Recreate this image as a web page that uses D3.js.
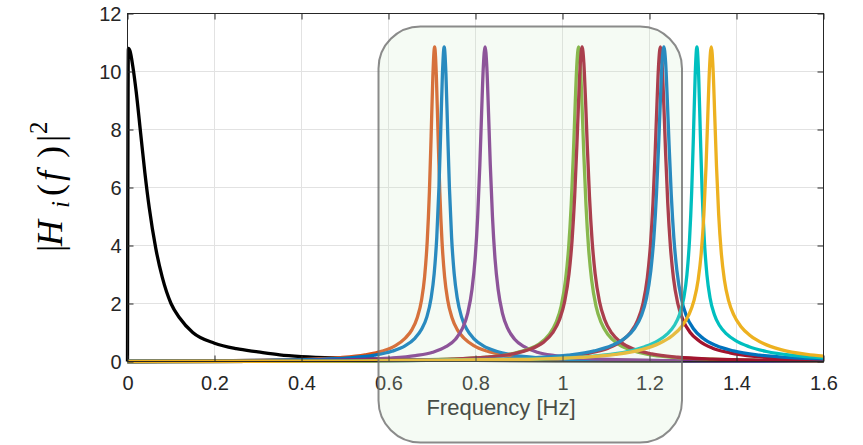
<!DOCTYPE html>
<html><head><meta charset="utf-8">
<script src="https://cdn.jsdelivr.net/npm/d3@7"></script>
<style>html,body{margin:0;padding:0;background:#fff}</style>
</head><body>
<svg id="c" width="863" height="445"></svg>
<script>
// ---------- data ----------
const xTicks = [0, 0.2, 0.4, 0.6, 0.8, 1, 1.2, 1.4, 1.6];
const xTickLabels = ["0", "0.2", "0.4", "0.6", "0.8", "1", "1.2", "1.4", "1.6"];
const yTicks = [0, 2, 4, 6, 8, 10, 12];
const yTickLabels = ["0", "2", "4", "6", "8", "10", "12"];
const xLabel = "Frequency [Hz]";

const blackCurve = [[0,0],[0.002,10.8],[0.006,10.7],[0.012,10.2],[0.02,9.3],[0.03,7.9],[0.04,6.5],[0.05,5.3],[0.065,3.9],[0.08,2.9],[0.1,2.0],[0.12,1.5],[0.15,1.0],[0.2,0.63],[0.25,0.44],[0.3,0.33],[0.35,0.23],[0.4,0.17],[0.5,0.11],[0.6,0.07],[0.8,0.04],[1.0,0.025],[1.3,0.015],[1.6,0.01]];
const orangeCurve = [[0,0],[0.15,0.012],[0.286,0.038],[0.406,0.072],[0.486,0.129],[0.546,0.226],[0.586,0.36],[0.616,0.55],[0.638,0.80],[0.654,1.10],[0.666,1.51],[0.676,2.12],[0.683,2.92],[0.689,4.14],[0.694,5.83],[0.698,7.77],[0.702,9.85],[0.706,10.85],[0.710,9.85],[0.714,7.77],[0.718,5.83],[0.723,4.14],[0.729,2.92],[0.736,2.12],[0.746,1.51],[0.758,1.10],[0.774,0.80],[0.796,0.55],[0.826,0.36],[0.866,0.226],[0.926,0.129],[1.006,0.072],[1.126,0.038],[1.35,0.02],[1.6,0.012]];
const blueCurve1 = [[0,0],[0.15,0.012],[0.308,0.037],[0.428,0.07],[0.508,0.126],[0.568,0.221],[0.608,0.354],[0.638,0.54],[0.660,0.79],[0.676,1.11],[0.688,1.53],[0.698,2.19],[0.705,3.03],[0.711,4.29],[0.716,6.01],[0.720,7.92],[0.724,9.92],[0.728,10.85],[0.732,9.92],[0.736,7.92],[0.740,6.01],[0.745,4.29],[0.751,3.03],[0.758,2.19],[0.768,1.53],[0.780,1.11],[0.796,0.79],[0.818,0.54],[0.848,0.354],[0.888,0.221],[0.948,0.126],[1.028,0.07],[1.148,0.037],[1.35,0.02],[1.6,0.012]];
const purpleCurve = [[0,0],[0.2,0.01],[0.402,0.033],[0.522,0.063],[0.602,0.113],[0.662,0.2],[0.702,0.32],[0.732,0.51],[0.754,0.77],[0.770,1.14],[0.782,1.66],[0.792,2.49],[0.799,3.52],[0.805,4.99],[0.810,6.78],[0.814,8.55],[0.818,10.16],[0.822,10.85],[0.826,10.16],[0.830,8.55],[0.834,6.78],[0.839,4.99],[0.845,3.52],[0.852,2.49],[0.862,1.66],[0.874,1.14],[0.890,0.77],[0.912,0.51],[0.942,0.32],[0.982,0.2],[1.042,0.113],[1.122,0.063],[1.242,0.033],[1.6,0.012]];
const greenCurve = [[0,0],[0.3,0.008],[0.617,0.041],[0.737,0.079],[0.817,0.14],[0.877,0.245],[0.917,0.4],[0.947,0.61],[0.969,0.92],[0.985,1.34],[0.997,1.91],[1.007,2.81],[1.014,3.9],[1.020,5.39],[1.025,7.15],[1.029,8.8],[1.033,10.25],[1.037,10.85],[1.041,10.25],[1.045,8.8],[1.049,7.15],[1.054,5.39],[1.060,3.9],[1.067,2.81],[1.077,1.91],[1.089,1.34],[1.105,0.92],[1.127,0.61],[1.157,0.4],[1.197,0.245],[1.257,0.14],[1.337,0.079],[1.457,0.041],[1.6,0.025]];
const redCurve1 = [[0,0],[0.3,0.008],[0.625,0.043],[0.745,0.083],[0.825,0.147],[0.885,0.26],[0.925,0.42],[0.955,0.65],[0.977,0.985],[0.993,1.44],[1.005,2.07],[1.015,3.03],[1.022,4.18],[1.028,5.70],[1.033,7.43],[1.037,8.99],[1.041,10.31],[1.045,10.85],[1.049,10.31],[1.053,8.99],[1.057,7.43],[1.062,5.70],[1.068,4.18],[1.075,3.03],[1.085,2.07],[1.097,1.44],[1.113,0.985],[1.135,0.65],[1.165,0.42],[1.205,0.26],[1.265,0.147],[1.345,0.083],[1.465,0.043],[1.6,0.028]];
const redCurve2 = [[0,0],[0.4,0.008],[0.805,0.053],[0.925,0.099],[1.005,0.173],[1.065,0.3],[1.105,0.46],[1.135,0.70],[1.157,1.01],[1.173,1.43],[1.185,2.0],[1.195,2.89],[1.202,3.98],[1.208,5.45],[1.213,7.19],[1.217,8.82],[1.221,10.25],[1.225,10.85],[1.229,10.25],[1.233,8.82],[1.237,7.19],[1.242,5.45],[1.248,3.98],[1.255,2.89],[1.265,2.0],[1.277,1.43],[1.293,1.01],[1.315,0.70],[1.345,0.46],[1.385,0.3],[1.445,0.173],[1.525,0.099],[1.6,0.065]];
const blueCurve2 = [[0,0],[0.4,0.01],[0.813,0.07],[0.933,0.129],[1.013,0.22],[1.073,0.365],[1.113,0.55],[1.143,0.80],[1.165,1.13],[1.181,1.57],[1.193,2.18],[1.203,3.13],[1.210,4.26],[1.216,5.76],[1.221,7.47],[1.225,9.0],[1.229,10.32],[1.233,10.85],[1.237,10.32],[1.241,9.0],[1.245,7.47],[1.250,5.76],[1.256,4.26],[1.263,3.13],[1.273,2.18],[1.285,1.57],[1.301,1.13],[1.323,0.80],[1.353,0.55],[1.393,0.365],[1.453,0.22],[1.533,0.129],[1.6,0.09]];
const cyanCurve = [[0,0],[0.5,0.012],[0.889,0.066],[1.009,0.123],[1.089,0.21],[1.149,0.345],[1.189,0.51],[1.219,0.71],[1.241,0.95],[1.257,1.24],[1.269,1.62],[1.279,2.21],[1.286,2.99],[1.292,4.19],[1.297,5.86],[1.301,7.79],[1.305,9.86],[1.309,10.85],[1.313,9.86],[1.317,7.79],[1.321,5.86],[1.326,4.19],[1.332,2.99],[1.339,2.21],[1.349,1.62],[1.361,1.24],[1.377,0.95],[1.399,0.71],[1.429,0.51],[1.469,0.345],[1.529,0.21],[1.6,0.13]];
const yellowCurve = [[0,0],[0.5,0.015],[0.922,0.075],[1.042,0.141],[1.122,0.244],[1.182,0.41],[1.222,0.62],[1.252,0.89],[1.274,1.21],[1.290,1.60],[1.302,2.09],[1.312,2.83],[1.319,3.75],[1.325,5.07],[1.330,6.74],[1.334,8.47],[1.338,10.12],[1.342,10.85],[1.346,10.12],[1.350,8.47],[1.354,6.74],[1.359,5.07],[1.365,3.75],[1.372,2.83],[1.382,2.09],[1.394,1.60],[1.410,1.21],[1.432,0.89],[1.462,0.62],[1.502,0.41],[1.562,0.244],[1.6,0.185]];

const seriesData   = [blackCurve, orangeCurve, blueCurve1, purpleCurve, greenCurve, redCurve1, redCurve2, blueCurve2, cyanCurve, yellowCurve];
const seriesColors = ["#000000", "#D95319", "#0072BD", "#7E2F8E", "#77AC30", "#A2142F", "#A2142F", "#0072BD", "#00BFBF", "#EDB120"];

// ---------- drawing ----------
const svg = d3.select("#c");
const x = d3.scaleLinear().domain([0, 1.6]).range([127.5, 823.5]);
const y = d3.scaleLinear().domain([0, 12]).range([361.5, 13.5]);
const axisColor = "#262626";
const font = "'Liberation Sans', Arial, Helvetica, sans-serif";

svg.append("rect").attr("x", 0).attr("y", 0).attr("width", 863).attr("height", 445).attr("fill", "#fff");

// grid
const grid = svg.append("g").attr("stroke", "#e2e2e2").attr("stroke-width", 1);
xTicks.slice(1, -1).forEach(t => grid.append("line").attr("x1", x(t)).attr("x2", x(t)).attr("y1", y(0)).attr("y2", y(12)));
yTicks.slice(1, -1).forEach(t => grid.append("line").attr("x1", x(0)).attr("x2", x(1.6)).attr("y1", y(t)).attr("y2", y(t)));

// curves
const line = d3.line().x(d => x(d[0])).y(d => y(d[1])).curve(d3.curveMonotoneX);
seriesData.forEach((s, i) => {
  svg.append("path").datum(s).attr("d", line).attr("fill", "none")
    .attr("stroke", seriesColors[i]).attr("stroke-width", 3.3)
    .attr("stroke-linejoin", "round").attr("stroke-linecap", "butt");
});

// axes frame + ticks (all four sides, inward)
const axes = svg.append("g");
axes.append("rect").attr("x", x(0)).attr("y", y(12)).attr("width", x(1.6) - x(0)).attr("height", y(0) - y(12))
  .attr("fill", "none").attr("stroke", axisColor).attr("stroke-width", 1);
const bottomAxis = d3.axisBottom(x).tickValues(xTicks).tickFormat((d, i) => xTickLabels[i]).tickSizeInner(-6).tickSizeOuter(0).tickPadding(12);
const gB = axes.append("g").attr("transform", `translate(0,${y(0)})`).call(bottomAxis);
const topAxis = d3.axisTop(x).tickValues(xTicks).tickFormat("").tickSizeInner(-6).tickSizeOuter(0);
const gT = axes.append("g").attr("transform", `translate(0,${y(12)})`).call(topAxis);
const leftAxis = d3.axisLeft(y).tickValues(yTicks).tickFormat((d, i) => yTickLabels[i]).tickSizeInner(-6).tickSizeOuter(0).tickPadding(12);
const gL = axes.append("g").attr("transform", `translate(${x(0)},0)`).call(leftAxis);
const rightAxis = d3.axisRight(y).tickValues(yTicks).tickFormat("").tickSizeInner(-6).tickSizeOuter(0);
const gR = axes.append("g").attr("transform", `translate(${x(1.6)},0)`).call(rightAxis);
[gB, gT, gL, gR].forEach(g => {
  g.select(".domain").remove();
  g.selectAll(".tick line").attr("stroke", axisColor);
  g.selectAll(".tick text").attr("fill", axisColor).style("font-family", font).style("font-size", "20px");
});
gB.selectAll(".tick text").attr("dy", "0.71em").attr("y", 14);
gL.selectAll(".tick text").attr("x", -6).attr("dy", "0.36em");

// x label
svg.append("text").attr("x", 501).attr("y", 415).attr("text-anchor", "middle")
  .attr("fill", axisColor).style("font-family", font).style("font-size", "22px").text(xLabel);

// y label |H_i(f)|^2 (math style)
const yl = svg.append("text").attr("transform", "translate(62,185) rotate(-90)")
  .attr("fill", "#000").style("font-family", "'Liberation Serif', 'Times New Roman', serif").style("font-size", "36px");
const parts = [
  {t: "|", x: -67, dy: 0, it: false, fs: 36},
  {t: "H", x: -61, dy: 0, it: true, fs: 36},
  {t: "i", x: -23, dy: 7, it: true, fs: 25},
  {t: "(", x: -11, dy: -7, it: false, fs: 36},
  {t: "f", x: 4, dy: 0, it: true, fs: 36},
  {t: ")", x: 27, dy: 0, it: false, fs: 36},
  {t: "|", x: 43, dy: 0, it: false, fs: 36},
  {t: "2", x: 51, dy: -15, it: false, fs: 25}
];
parts.forEach(p => {
  yl.append("tspan").attr("x", p.x).attr("dy", p.dy).style("font-style", p.it ? "italic" : "normal")
    .style("font-size", p.fs + "px").text(p.t);
});

// highlight box (drawn on top, semi-transparent)
svg.append("rect").attr("x", 378.5).attr("y", 26.5).attr("width", 303.5).attr("height", 416).attr("rx", 42).attr("ry", 42)
  .attr("fill", "rgb(205,235,200)").attr("fill-opacity", 0.2)
  .attr("stroke", "#6e6e6e").attr("stroke-opacity", 0.8).attr("stroke-width", 2);
</script>
</body></html>
